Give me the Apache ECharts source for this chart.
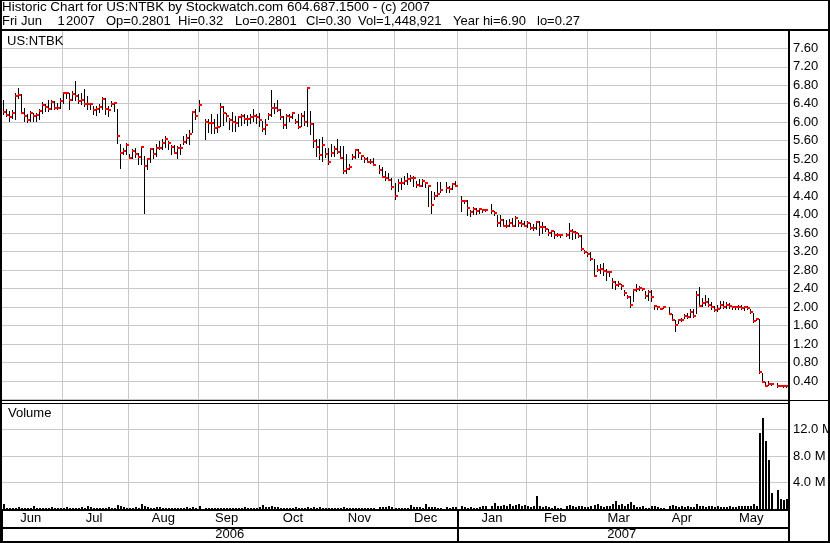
<!DOCTYPE html>
<html><head><meta charset="utf-8">
<script src="https://cdn.jsdelivr.net/npm/echarts@6/dist/echarts.min.js"></script>
<style>html,body{margin:0;padding:0;background:#fff}#c{width:830px;height:543px}</style>
</head><body><div id="c"></div>
<script>
// ---- axis categories ----
const monthNames = ['Jun','Jul','Aug','Sep','Oct','Nov','Dec','Jan','Feb','Mar','Apr','May'];
const monthYears = [2006,2006,2006,2006,2006,2006,2006,2007,2007,2007,2007,2007];
const monthBars  = [20,22,23,20,23,22,21,23,20,21,22,24];
const yearLabels = ['2006','2007'];

// ---- daily high / low / close (null = no trading) ----
const highs = [
 6.49,6.28,6.24,6.26,6.64,6.73,6.60,6.31,6.17,6.24,6.21,6.21,6.28,6.44,6.40,6.49,6.49,6.46,6.42,6.53,
 6.64,6.64,6.64,6.67,6.90,6.60,6.64,6.71,6.57,6.42,6.35,6.35,6.39,6.54,6.53,6.35,6.46,6.42,6.28,5.52,5.45,5.56,
 5.31,5.41,5.45,5.34,5.47,5.27,5.20,5.45,5.45,5.52,5.59,5.63,5.70,5.59,5.50,5.50,5.49,5.52,5.70,5.74,5.83,6.24,6.28,
 6.48,null,6.08,6.06,6.17,6.08,6.17,6.42,6.35,6.21,6.10,6.22,6.13,6.13,6.17,6.17,6.15,6.17,6.29,6.17,
 6.21,6.03,6.06,6.21,6.69,6.42,6.48,6.29,6.13,6.17,6.17,6.21,6.06,6.17,6.21,6.24,6.73,6.24,5.99,5.63,5.63,5.67,5.45,
 5.45,5.52,5.49,5.63,5.49,5.49,5.31,5.09,5.31,5.43,5.41,5.27,5.24,5.25,5.20,5.23,null,5.07,5.03,4.95,4.91,4.80,
 4.69,4.78,4.80,4.83,4.91,4.85,4.84,4.73,4.78,4.77,4.71,4.64,4.52,4.48,4.71,4.71,null,4.71,4.61,4.69,4.73,
 null,4.41,4.32,4.32,4.11,4.17,4.14,4.14,4.12,4.11,null,4.22,4.07,4.00,4.00,3.91,3.89,3.91,3.93,3.97,3.89,3.89,3.86,
 3.86,3.81,3.79,3.86,3.86,3.84,3.76,3.69,3.66,3.64,3.61,3.57,null,3.61,3.81,3.68,3.64,3.61,3.55,3.24,
 3.20,3.20,3.04,2.92,2.93,2.95,2.82,2.77,2.63,2.56,2.56,2.49,2.38,2.27,2.23,2.38,2.49,2.45,2.41,2.34,2.38,
 2.36,2.05,2.03,1.98,2.02,null,2.00,1.84,1.73,1.74,1.77,1.84,1.87,1.96,1.96,2.34,2.44,2.20,2.27,2.20,2.10,2.02,
 2.05,2.14,2.13,2.10,2.08,2.03,2.03,2.05,2.05,2.03,2.03,1.96,1.87,1.77,1.75,0.58,0.37,0.40,0.35,null,0.35,0.31,0.30,0.32
];
const lows = [
 6.17,6.13,6.03,6.10,6.06,6.53,6.21,6.03,6.00,6.03,6.03,6.03,6.06,6.21,6.24,6.24,6.28,6.28,6.28,6.31,
 6.42,6.53,6.28,6.49,6.49,6.42,6.39,6.35,6.28,6.28,6.17,6.15,6.22,6.28,6.17,6.13,6.35,6.24,5.56,5.02,5.31,5.31,
 5.22,5.22,5.24,5.09,5.09,4.03,4.98,5.13,5.22,5.26,5.41,5.43,5.47,5.41,5.31,5.34,5.22,5.31,5.52,5.56,5.52,5.79,6.06,
 6.24,null,5.63,5.79,5.76,5.76,5.79,5.92,5.95,6.03,5.85,5.81,5.81,5.92,5.95,5.99,5.95,5.99,6.03,5.99,
 5.92,5.81,5.74,6.06,6.13,6.21,6.24,6.06,5.88,5.88,6.03,6.10,5.99,5.88,5.92,5.95,5.92,5.74,5.47,5.26,5.20,5.16,5.24,
 5.09,5.27,5.27,5.34,5.22,4.91,4.91,4.98,5.20,5.22,5.24,5.20,5.15,5.15,5.11,5.08,null,4.91,4.82,4.76,4.75,4.55,
 4.33,4.52,4.55,4.67,4.67,4.73,4.62,4.60,4.62,4.62,4.59,4.19,4.03,4.33,4.40,4.48,null,4.50,4.50,4.55,4.61,
 null,4.07,4.25,4.00,3.98,4.02,4.02,4.04,4.05,4.07,null,4.04,4.00,3.76,3.75,3.76,3.74,3.76,3.75,3.76,3.76,3.75,3.75,
 3.74,3.68,3.66,3.69,3.57,3.61,3.64,3.57,3.53,3.50,3.53,3.52,null,3.53,3.50,3.48,3.50,3.52,3.24,3.18,
 3.11,3.02,2.67,2.77,2.74,2.70,2.59,2.67,2.41,2.39,2.45,2.39,2.27,2.20,2.00,2.13,2.34,2.36,2.36,2.20,2.16,
 2.13,1.95,1.96,1.95,1.97,null,1.84,1.72,1.48,1.66,1.69,1.77,1.77,1.79,1.79,1.87,2.03,2.02,2.05,2.03,1.95,1.91,
 1.92,1.98,1.98,1.98,1.98,1.96,1.96,1.95,1.95,1.94,1.96,1.87,1.67,1.72,0.58,0.37,0.29,0.31,0.32,null,0.27,0.29,0.28,0.28
];
const closes = [
 6.22,6.16,6.11,6.21,6.57,6.59,6.21,6.13,6.04,6.21,6.13,6.16,6.24,6.37,6.33,6.28,6.44,6.30,6.30,6.46,
 6.64,6.64,6.48,6.62,6.57,6.46,6.49,6.40,6.40,6.40,6.26,6.29,6.33,6.51,6.28,6.26,6.39,6.42,5.70,5.33,5.38,5.50,
 5.23,5.38,5.31,5.25,5.46,5.05,5.20,5.41,5.31,5.45,5.44,5.54,5.63,5.54,5.47,5.34,5.45,5.44,5.57,5.65,5.74,6.23,6.13,
 6.37,null,6.01,5.99,5.98,5.88,5.90,6.33,6.19,6.13,6.05,6.01,5.99,6.11,6.13,6.08,6.08,6.12,6.13,6.11,
 6.05,5.85,5.95,6.15,6.30,6.31,6.26,6.11,5.95,6.13,6.11,6.19,6.01,5.90,6.13,6.00,6.73,5.97,5.59,5.46,5.28,5.51,5.31,
 5.14,5.33,5.41,5.36,5.22,4.95,4.98,5.03,5.25,5.39,5.33,5.27,5.20,5.15,5.15,5.08,null,4.96,4.82,4.80,4.76,4.59,
 4.40,4.69,4.69,4.73,4.77,4.80,4.79,4.64,4.62,4.73,4.68,4.62,4.21,4.40,4.44,4.53,null,4.58,4.55,4.66,4.63,
 null,4.29,4.29,4.14,4.05,4.12,4.07,4.12,4.09,4.09,null,4.07,4.04,3.81,3.88,3.76,3.76,3.81,3.75,3.93,3.81,3.79,3.76,
 3.81,3.71,3.71,3.84,3.74,3.74,3.68,3.61,3.64,3.55,3.57,3.55,null,3.57,3.64,3.63,3.61,3.53,3.26,3.20,
 3.15,3.03,2.67,2.81,2.83,2.79,2.75,2.75,2.54,2.47,2.50,2.45,2.31,2.21,2.05,2.36,2.40,2.41,2.39,2.25,2.33,
 2.21,2.02,2.00,1.96,2.00,null,1.84,1.73,1.62,1.72,1.73,1.80,1.78,1.89,1.80,2.26,2.03,2.08,2.10,2.05,2.00,1.93,
 1.95,2.05,2.00,2.05,2.02,2.00,2.00,2.00,1.98,2.00,1.98,1.89,1.69,1.75,0.59,0.38,0.29,0.33,0.33,null,0.29,0.30,0.29,0.30
];
// ---- daily volume, millions of shares ----
const volumes = [
 0.68,0.16,0.21,0.16,0.21,0.26,0.16,0.21,0.16,0.21,0.52,0.21,0.21,0.16,0.21,0.16,0.26,0.16,0.10,0.21,
 0.16,0.26,0.16,0.21,0.21,0.16,0.26,0.21,0.47,0.36,0.21,0.16,0.21,0.16,0.21,0.26,0.16,0.21,0.62,0.42,0.26,0.21,
 0.21,0.16,0.26,0.21,0.73,0.52,0.26,0.21,0.16,0.26,0.31,0.16,0.16,0.21,0.16,0.21,0.16,0.21,0.16,0.26,0.16,0.26,0.21,
 0.47,null,0.16,0.21,0.16,0.16,0.21,0.16,0.21,0.16,0.21,0.16,0.21,0.16,0.21,0.26,0.16,0.21,0.16,0.21,
 0.26,0.62,0.31,0.36,0.42,0.31,0.36,0.21,0.16,0.21,0.16,0.21,0.26,0.16,0.21,0.16,0.31,0.21,0.26,0.21,0.26,0.21,0.21,
 0.16,0.21,0.16,0.21,0.16,0.26,0.21,0.16,0.21,0.21,0.16,0.21,0.16,0.16,0.21,0.16,null,0.31,0.36,0.26,0.42,0.31,
 0.21,0.16,0.21,0.16,0.21,0.62,0.26,0.31,0.26,0.21,0.73,0.31,0.26,0.31,0.21,0.16,null,0.26,0.21,0.31,0.31,
 null,0.42,0.26,0.21,0.26,0.21,0.21,0.26,0.42,0.52,null,0.52,0.94,0.42,0.52,0.62,0.42,0.73,0.52,0.62,0.73,0.42,0.62,
 0.42,0.31,0.52,1.98,0.42,0.31,0.42,0.31,0.21,0.42,0.16,0.10,null,0.52,0.62,0.42,0.31,0.52,0.42,0.31,
 0.31,0.52,0.62,0.73,0.42,0.31,0.52,0.42,0.83,1.14,0.62,0.73,0.52,0.83,1.04,0.62,0.31,0.31,0.42,0.21,0.21,
 0.42,0.52,0.31,0.21,0.21,null,0.52,0.62,0.42,0.31,0.42,0.31,0.42,0.31,0.31,0.83,0.42,0.42,0.31,0.42,0.42,0.31,
 0.42,0.31,0.31,0.31,0.42,0.31,0.31,0.42,0.42,0.42,0.52,0.52,0.73,0.42,11.4,13.8,10.3,7.4,2.4,null,2.9,1.5,1.3,1.45
];

const FONT = 'Liberation Sans';
const GRID = '#c8c8c8';

// build categories from months
const categories = [];
const monthStart = new Set();
const monthMid = {};
let idx = 0;
monthNames.forEach((m, k) => {
  if (k > 0) monthStart.add(idx);
  monthMid[idx + Math.floor((monthBars[k] - 1) / 2)] = m;
  for (let j = 0; j < monthBars[k]; j++) categories.push(m + ' ' + monthYears[k] + ' ' + (j + 1));
  idx += monthBars[k];
});
const yearStart = new Set([0]);
const yearMid = {};
(function () {
  let s = 0;
  for (let i = 1; i <= categories.length; i++) {
    const yPrev = categories[i - 1].split(' ')[1];
    const yCur = i < categories.length ? categories[i].split(' ')[1] : null;
    if (yCur !== yPrev) {
      yearMid[s + Math.floor((i - 1 - s) / 2)] = yPrev;
      if (yCur) yearStart.add(i);
      s = i;
    }
  }
})();

const priceData = [], volData = [];
for (let i = 0; i < categories.length; i++) {
  if (highs[i] != null) priceData.push([i, highs[i], lows[i], closes[i]]);
  if (volumes[i] != null) volData.push([i, volumes[i]]);
}

const baseX = {
  type: 'category', data: categories, boundaryGap: true,
  axisLine: {show: false}, axisTick: {show: false}
};
const monthSplit = {show: true, interval: (i) => monthStart.has(i), lineStyle: {color: GRID, width: 1}};

const chart = echarts.init(document.getElementById('c'), null, {renderer: 'canvas'});
const txt = (t, x, y, fs) => ({type: 'text', x: x, y: y, z: 101,
  style: {text: t, fill: '#000', fontSize: fs || 13, fontFamily: FONT, verticalAlign: 'middle', align: 'left'}});
const bar = (x, y, w, h) => ({type: 'rect', z: 100, shape: {x: x, y: y, width: w, height: h}, style: {fill: '#000'}});

chart.setOption({
  animation: false,
  backgroundColor: '#fff',
  textStyle: {fontFamily: FONT},
  grid: [
    {left: 2, right: 41, top: 29.8, height: 369.7, outerBoundsMode: 'none', containLabel: false},
    {left: 2, right: 41, top: 403, height: 106, outerBoundsMode: 'none', containLabel: false},
    {left: 2, right: 41, top: 511, height: 30, outerBoundsMode: 'none', containLabel: false}
  ],
  xAxis: [
    Object.assign({}, baseX, {gridIndex: 0, axisLabel: {show: false}, splitLine: monthSplit}),
    Object.assign({}, baseX, {gridIndex: 1, splitLine: monthSplit,
      axisLabel: {show: true, interval: (i) => monthMid[i] !== undefined, formatter: (v) => v.split(' ')[0],
        margin: 3, color: '#000', fontSize: 13, fontFamily: FONT}}),
    Object.assign({}, baseX, {gridIndex: 2,
      splitLine: {show: true, interval: (i) => yearStart.has(i), lineStyle: {color: '#000', width: 2}},
      axisLabel: {show: true, inside: true, interval: (i) => yearMid[i] !== undefined, formatter: (v) => v.split(' ')[1],
        margin: 0, color: '#000', fontSize: 13, fontFamily: FONT}})
  ],
  yAxis: [
    {gridIndex: 0, type: 'value', position: 'right', min: 0, max: 8, interval: 0.4,
      axisLine: {show: false}, axisTick: {show: false},
      splitLine: {show: true, lineStyle: {color: GRID, width: 1}},
      axisLabel: {margin: 4, color: '#000', fontSize: 13, fontFamily: FONT,
        formatter: (v) => (v < 0.2 || v > 7.8) ? '' : v.toFixed(2)}},
    {gridIndex: 1, type: 'value', position: 'right', min: 0, max: 16, interval: 4,
      axisLine: {show: false}, axisTick: {show: false},
      splitLine: {show: true, lineStyle: {color: GRID, width: 1}},
      axisLabel: {margin: 4, color: '#000', fontSize: 13, fontFamily: FONT,
        formatter: (v) => (v > 0 && v < 16) ? v.toFixed(1) + ' M' : ''}},
    {gridIndex: 2, type: 'value', show: false, min: 0, max: 1}
  ],
  series: [
    {type: 'custom', xAxisIndex: 0, yAxisIndex: 0, data: priceData, encode: {x: 0, y: [1, 2, 3]},
      renderItem: (params, api) => {
        const i = api.value(0);
        const pH = api.coord([i, api.value(1)]);
        const pL = api.coord([i, api.value(2)]);
        const pC = api.coord([i, api.value(3)]);
        const x = Math.round(pH[0]) - 1;
        const yH = Math.round(pH[1]), yL = Math.round(pL[1]), yC = Math.round(pC[1]);
        return {type: 'group', children: [
          {type: 'rect', shape: {x: x, y: yH, width: 1, height: Math.max(1, yL - yH + 1)}, style: {fill: '#000'}},
          {type: 'rect', shape: {x: x, y: yC - 1, width: 3, height: 2}, style: {fill: '#ff0000'}}
        ]};
      }},
    {type: 'custom', xAxisIndex: 1, yAxisIndex: 1, data: volData, encode: {x: 0, y: 1},
      renderItem: (params, api) => {
        const i = api.value(0);
        const p = api.coord([i, api.value(1)]);
        const p0 = api.coord([i, 0]);
        const x = Math.round(p[0]) - 1;
        const y = Math.round(p[1]), y0 = Math.round(p0[1]);
        return {type: 'rect', shape: {x: x, y: y, width: 2, height: Math.max(1, y0 - y)}, style: {fill: '#000'}};
      }},
    {type: 'line', xAxisIndex: 2, yAxisIndex: 2, data: [], silent: true}
  ],
  graphic: {elements: [
    bar(0, 0, 830, 1), bar(0, 0, 2, 543), bar(828, 0, 2, 543), bar(0, 541, 830, 2),
    bar(0, 29, 830, 2),
    bar(0, 400, 830, 1), bar(0, 403, 790, 1),
    bar(788, 29, 2, 514),
    bar(0, 509, 790, 2), bar(0, 527, 790, 2),
    txt('Historic Chart for US:NTBK by Stockwatch.com 604.687.1500 - (c) 2007', 2, 7.5, 13.4),
    txt('Fri', 2, 21.5), txt('Jun', 21, 21.5), txt('1', 57.5, 21.5), txt('2007', 66, 21.5),
    txt('Op=0.2801', 106, 21.5), txt('Hi=0.32', 178, 21.5), txt('Lo=0.2801', 235, 21.5),
    txt('Cl=0.30', 306, 21.5), txt('Vol=1,448,921', 358, 21.5),
    txt('Year hi=6.90', 453, 21.5), txt('lo=0.27', 537, 21.5),
    txt('US:NTBK', 7, 41.5),
    txt('Volume', 8, 413)
  ]}
});
</script></body></html>
